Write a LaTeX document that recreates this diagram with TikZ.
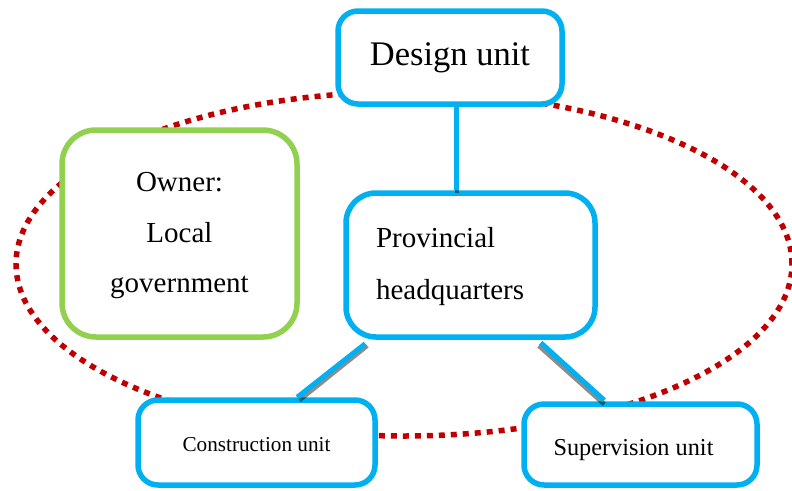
\documentclass[tikz,border=0pt]{standalone}
\usepackage{fontspec}
\setmainfont{Liberation Serif}
\definecolor{cblue}{HTML}{00B0F0}
\definecolor{cgreen}{HTML}{92D050}
\definecolor{cred}{HTML}{C00000}
\tikzset{
  box/.style={draw=cblue, line width=5.5pt, fill=white, rectangle, inner sep=0pt},
  conn/.style={draw=cblue, line width=5pt},
  shade/.style={draw=black, opacity=0.45, line width=4.5pt},
  dots/.style={draw=cred, line width=5.5pt, dash pattern=on 6pt off 6pt}
}
\begin{document}
\begin{tikzpicture}[x=1pt,y=-1pt]
\useasboundingbox (0,0) rectangle (792,490);
\fill[white] (0,0) rectangle (792,490);
\draw[dots] (404,264) ellipse [x radius=388pt, y radius=172pt];

\node[box, rounded corners=20pt, minimum width=224pt, minimum height=93pt,
      font=\fontsize{34.5}{40}\selectfont] (design) at (450,57.5) {Design unit};
\node[box, draw=cgreen, rounded corners=34pt, minimum width=235pt, minimum height=207pt,
      align=center, font=\fontsize{29}{50.5}\selectfont] (owner) at (179.5,233.5)
      {\rule{0pt}{24pt}Owner:\\Local\\government};
\node[box, rounded corners=30pt, minimum width=249pt, minimum height=144pt,
      text width=189pt, inner xsep=30pt, align=left,
      font=\fontsize{29}{52}\selectfont] (hq) at (470.5,265)
      {\rule{0pt}{24pt}Provincial\\headquarters};
\node[box, rounded corners=20pt, minimum width=237pt, minimum height=85pt,
      font=\fontsize{21.2}{25}\selectfont] (cons) at (256.5,442.5) {\rule{0pt}{19pt}Construction unit};
\node[box, rounded corners=20pt, minimum width=233pt, minimum height=81pt,
      font=\fontsize{24.3}{28}\selectfont] (sup) at (640.5,444.5) {\hspace*{-14pt}\rule{0pt}{27pt}Supervision unit};

\coordinate (a1) at ([xshift=6pt]design.south);
\coordinate (a2) at ([xshift=6pt]design.south |- hq.north);
\coordinate (b1) at ([shift={(22,4)}]hq.south west);
\coordinate (b2) at ([shift={(162,0)}]cons.north west);
\coordinate (c1) at ([shift={(-57,3)}]hq.south east);
\coordinate (c2) at ([shift={(83,-1)}]sup.north west);

\draw[shade] ([shift={(1,2)}]a1) -- ([shift={(1,3)}]a2);
\draw[shade] ([shift={(2,2)}]b1) -- ([shift={(2,3)}]b2);
\draw[shade] ([shift={(-2,3)}]c1) -- ([shift={(0,4)}]c2);
\draw[conn] (a1) -- (a2);
\draw[conn] (b1) -- (b2);
\draw[conn] (c1) -- (c2);
\end{tikzpicture}
\end{document}
